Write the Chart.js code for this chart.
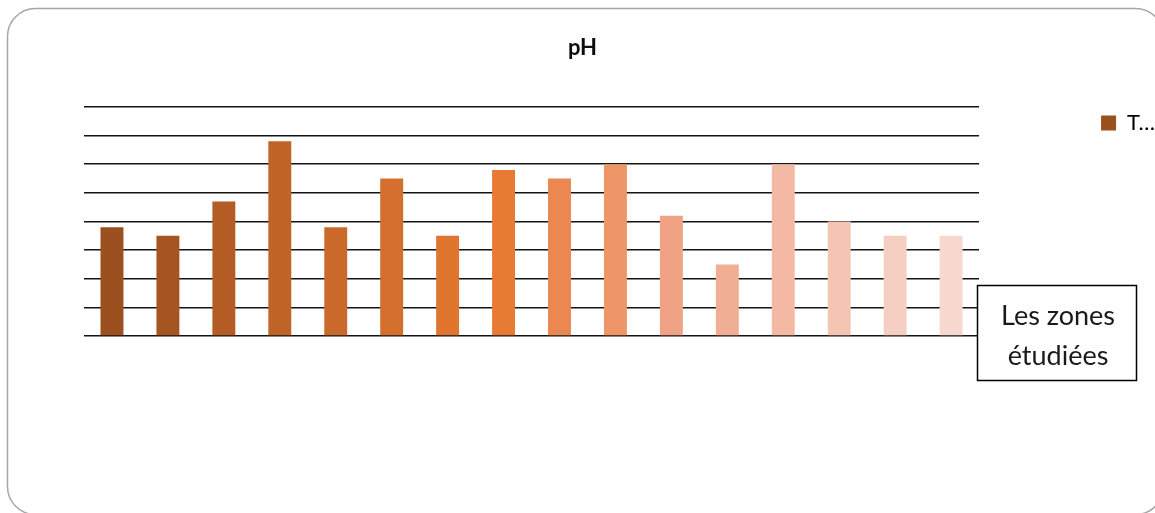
<!DOCTYPE html>
<html>
<head>
<meta charset="utf-8">
<script src="https://cdn.jsdelivr.net/npm/chart.js@4/dist/chart.umd.min.js"></script>
<style>
  html, body { margin: 0; padding: 0; background: #ffffff; }
  #wrap { width: 1155px; height: 513px; }
</style>
</head>
<body>
<div id="wrap"><canvas id="c" width="1155" height="513"></canvas></div>
<script>
// Zones sampled (labels are not displayed on the axis)
const zones = ['Z1','Z2','Z3','Z4','Z5','Z6','Z7','Z8','Z9','Z10','Z11','Z12','Z13','Z14','Z15','Z16'];
// pH per zone, in grid units (0 to 8)
const phValues = [3.8, 3.5, 4.7, 6.8, 3.8, 5.5, 3.5, 5.8, 5.5, 6.0, 4.2, 2.5, 6.0, 4.0, 3.5, 3.5];
// One shade per zone, dark brown fading to pale pink
const barColors = ['#9C4F1F','#A65522','#B35C24','#C06326','#CA6A2A','#D56F2D','#DF752F','#E87B33',
                   '#EB8750','#EE9668','#EFA384','#F0AE94','#F3B9A5','#F5C5B4','#F6CFC3','#F7D8CE'];
const seriesLabel = 'T\u2026';
const chartTitle = 'pH';
const boxLines = ['Les zones', '\u00e9tudi\u00e9es'];

// Rounded frame around the whole chart and the annotation box
const decorations = {
  id: 'decorations',
  afterDraw(chart) {
    const ctx = chart.ctx;
    ctx.save();
    // outer frame
    ctx.strokeStyle = '#a6a6a6';
    ctx.lineWidth = 1.5;
    ctx.beginPath();
    ctx.roundRect(7.5, 8.5, 1156, 506, 28);
    ctx.stroke();
    // text box
    ctx.fillStyle = '#ffffff';
    ctx.fillRect(977, 285, 160, 96);
    ctx.strokeStyle = '#000000';
    ctx.lineWidth = 1.5;
    ctx.strokeRect(977.5, 285.5, 159, 95);
    ctx.fillStyle = '#1a1a1a';
    ctx.font = '27px Lato';
    ctx.textAlign = 'center';
    ctx.textBaseline = 'alphabetic';
    ctx.fillText(boxLines[0], 1058, 325);
    ctx.fillText(boxLines[1], 1058, 365);
    ctx.restore();
  }
};

new Chart(document.getElementById('c'), {
  type: 'bar',
  data: {
    labels: zones,
    datasets: [{
      label: seriesLabel,
      data: phValues,
      backgroundColor: barColors,
      borderWidth: 0,
      barPercentage: 0.41,
      categoryPercentage: 1.0
    }]
  },
  options: {
    responsive: false,
    animation: false,
    devicePixelRatio: 1,
    layout: { padding: { left: 0, right: -10, top: 0, bottom: 177 } },
    plugins: {
      title: {
        display: true,
        text: chartTitle,
        color: '#0d0d0d',
        font: { family: 'Lato', size: 22, weight: 'bold', lineHeight: 1.2 },
        padding: { top: 35, bottom: 45.6 }
      },
      legend: {
        display: true,
        position: 'right',
        align: 'start',
        fullSize: false,
        labels: {
          color: '#1a1a1a',
          font: { family: 'Lato', size: 22 },
          boxWidth: 15,
          boxHeight: 15,
          padding: 5,
          generateLabels: (chart) => [{
            text: chart.data.datasets[0].label,
            fillStyle: barColors[0],
            strokeStyle: barColors[0],
            lineWidth: 0,
            hidden: false,
            datasetIndex: 0
          }]
        }
      },
      tooltip: { enabled: false }
    },
    scales: {
      x: {
        display: false,
        grid: { display: false }
      },
      y: {
        min: 0,
        max: 8,
        ticks: { display: false, stepSize: 1 },
        grid: { color: '#141414', lineWidth: 1.6, drawTicks: false },
        border: { display: false },
        afterFit: (s) => { s.width = 84; }
      },
      gap: {
        type: 'linear',
        position: 'right',
        display: true,
        ticks: { display: false },
        grid: { display: false, drawTicks: false },
        border: { display: false },
        afterFit: (s) => { s.width = 117; }
      }
    }
  },
  plugins: [decorations]
});
</script>
</body>
</html>
